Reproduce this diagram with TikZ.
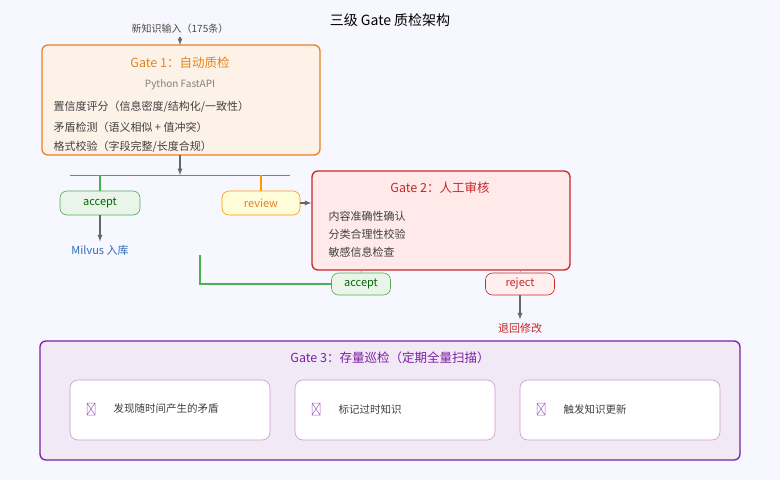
\documentclass[tikz,border=0pt]{standalone}
\usepackage{fontspec}
\setmainfont{Noto Sans CJK SC}
\begin{document}
\begin{tikzpicture}[x=1pt,y=-1pt,
 box/.style={draw,rounded corners=6pt,line width=1.3pt},
 tag/.style={draw,rounded corners=7pt,line width=0.6pt,minimum height=24pt,font=\fontsize{11}{13}\selectfont,inner sep=0pt},
 arr/.style={draw=black!60,line width=1.2pt,-latex},
 txt/.style={font=\fontsize{11}{13}\selectfont,anchor=west,text=black!75},
 item/.style={draw=violet!40,rounded corners=8pt,fill=white,line width=0.6pt}]
\useasboundingbox[fill=white!97!blue] (0,0) rectangle (780,480);
\definecolor{og}{HTML}{E8821E}\definecolor{rd}{HTML}{C62828}\definecolor{pu}{HTML}{7B1FA2}\definecolor{gr}{HTML}{4CAF50}\definecolor{bl}{HTML}{2E6DB4}
\node (title) at (390,20) {\fontsize{14}{16}\selectfont 三级 Gate 质检架构};
\node[font=\fontsize{10}{12}\selectfont,text=black!70] (in) at (180,29) {新知识输入（175条）};
\draw[box,draw=og,fill=og!10] (42,45) rectangle (320,155);
\coordinate (g1t) at (180,45); \coordinate (g1b) at (180,155);
\draw[arr] (in.south) -- (g1t);
\node[text=og,font=\fontsize{12.5}{14}\selectfont] (g1h) at (180,63) {Gate 1：自动质检};
\node[text=black!50,font=\fontsize{10}{12}\selectfont] (g1s) at (180,85) {Python FastAPI};
\node[txt] (g1a) at (50,107) {置信度评分（信息密度/结构化/一致性）};
\node[txt] (g1b2) at (50,127) {矛盾检测（语义相似 + 值冲突）};
\node[txt] (g1c) at (50,147) {格式校验（字段完整/长度合规）};
\coordinate (sp) at (180,175);
\draw[arr] (g1b) -- (sp);
\draw[black!50,line width=0.8pt] (70,175) -- (290,175);
\node[tag,draw=gr,fill=gr!12,text=green!40!black,minimum width=80pt] (acc1) at (100,203) {accept};
\node[tag,draw=orange!80!yellow,fill=yellow!15,text=og,minimum width=78pt] (rev) at (261,203) {review};
\draw[gr,line width=1.2pt] (100,175) -- (acc1.north);
\draw[orange!80!yellow,line width=1.2pt] (261,175) -- (rev.north);
\node[text=bl,font=\fontsize{11}{13}\selectfont] (milvus) at (100,250) {Milvus 入库};
\draw[arr] (acc1.south) -- (milvus.north);
\node[box,draw=rd,fill=pink!35,minimum width=258pt,minimum height=99pt] (g2) at (441,220.5) {};
\draw[arr] (rev.east) -- (g2.west|-rev.east);
\node[text=rd,font=\fontsize{12.5}{14}\selectfont] (g2h) at (440,188) {Gate 2：人工审核};
\node[txt] (g2a) at (325,216) {内容准确性确认};
\node[txt] (g2b) at (325,234) {分类合理性校验};
\node[txt] (g2c) at (325,252) {敏感信息检查};
\node[tag,draw=gr,fill=gr!12,text=green!40!black,minimum width=59pt,minimum height=22pt] (acc2) at (361,284) {accept};
\node[tag,draw=rd,fill=pink!25,text=rd,minimum width=69pt,minimum height=22pt] (rej) at (520,284) {reject};
\draw[black!30,line width=0.5pt] (g2.south-|acc2) -- (acc2.north);
\draw[black!30,line width=0.5pt] (g2.south-|rej) -- (rej.north);
\coordinate (gl) at (200,255);
\draw[gr,line width=1.2pt] (gl) |- (acc2.west);
\node[text=rd,font=\fontsize{11}{13}\selectfont] (back) at (520,328) {退回修改};
\draw[arr] (rej.south) -- (back.north);
\draw[box,draw=pu,fill=pu!10] (40,341) rectangle (740,460);
\node[text=pu,font=\fontsize{12.5}{14}\selectfont] (g3h) at (390,358) {Gate 3：存量巡检（定期全量扫描）};
\foreach \x/\t/\n in {70/发现随时间产生的矛盾/a,295/标记过时知识/b,520/触发知识更新/c}{
 \draw[item] (\x,380) rectangle ++(200,60);
 \draw[pu!70,line width=0.5pt] (\x+17,403) rectangle ++(8,12) (\x+17,403) -- ++(8,12) (\x+25,403) -- ++(-8,12);
 \node[txt,font=\fontsize{10.5}{12}\selectfont] (it\n) at (\x+40,409) {\t};
}
\end{tikzpicture}
\end{document}
